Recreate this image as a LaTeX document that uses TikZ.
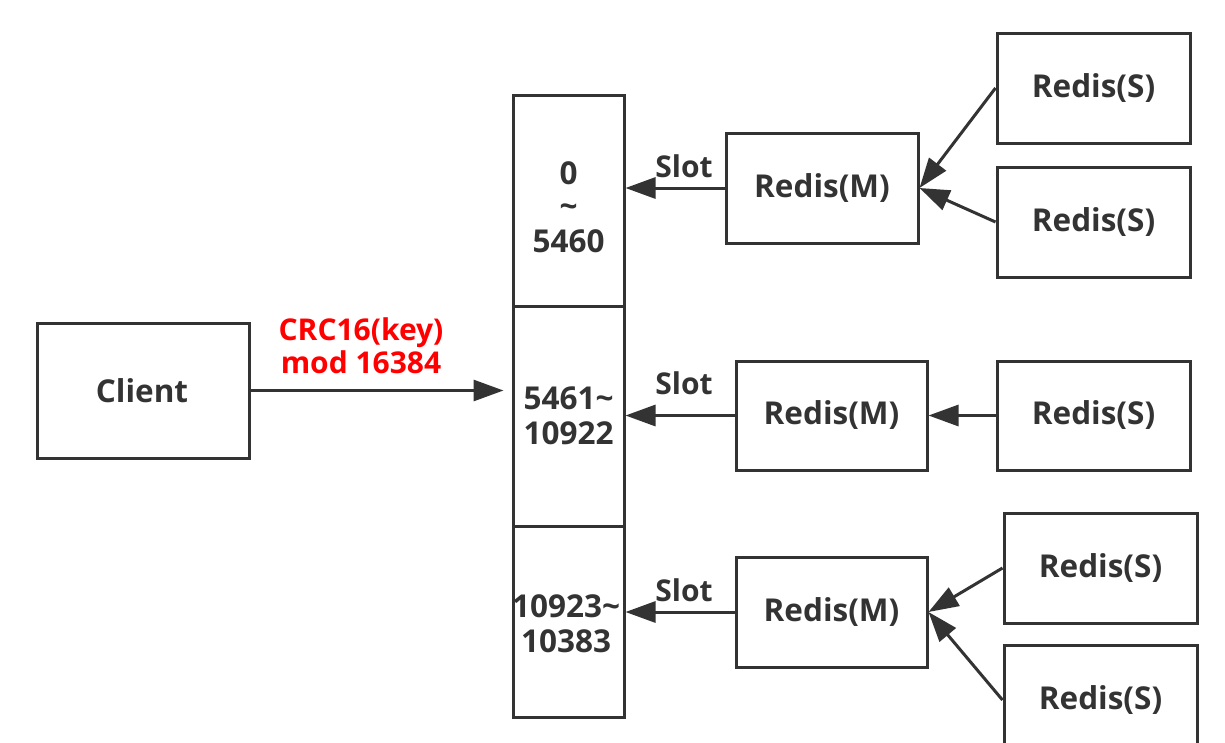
\documentclass[tikz,border=0pt]{standalone}
\usepackage{fontspec}
\setmainfont{Open Sans}
\usetikzlibrary{arrows.meta}
\definecolor{ink}{HTML}{333333}
\definecolor{redlbl}{HTML}{FF0000}
\tikzset{
  box/.style={draw=ink, line width=3pt, fill=white, inner sep=0pt, minimum width=#1},
  box/.default=193pt,
  btxt/.style={text=ink, font=\bfseries\fontsize{31.5}{35}\selectfont, align=center, inner sep=0pt},
  stxt/.style={text=ink, font=\bfseries\fontsize{30}{33}\selectfont, inner sep=0pt},
  conn/.style={draw=ink, line width=3pt, -{Triangle[length=30pt,width=21pt]}},
}
\begin{document}
\begin{tikzpicture}[x=1pt,y=-1pt]
\useasboundingbox (0,0) rectangle (1225,742);
\fill[white] (0,0) rectangle (1225,742);
\clip (0,0) rectangle (1225,742);
% client
\node[box=212pt, minimum height=135pt] (client) at (143.5,390.5) {};
\node[btxt] (clientt) at (142,390.5) {Client};
% slot column
\node[box=111pt, minimum height=211pt] (cell1) at (568.5,200.5) {};
\node[box=111pt, minimum height=220pt] (cell2) at (568.5,416) {};
\node[box=111pt, minimum height=191pt] (cell3) at (568.5,621.5) {};
\node[btxt] (cell1t) at (568.5,207) {0\\[-2pt]\char`~\\5460};
\node[btxt] (cell2t) at (568.5,415.5) {5461\char`~\\10922};
\node[btxt] (cell3t) at (566,623.5) {10923\char`~\\10383};
% masters
\node[box=192pt, minimum height=110pt] (m1) at (822,188) {};
\node[btxt] at (m1) {Redis(M)};
\node[box=191pt, minimum height=109pt] (m2) at (831.5,415.5) {};
\node[btxt] at (m2) {Redis(M)};
\node[box=191pt, minimum height=110pt] (m3) at (831.5,612) {};
\node[btxt] at (m3) {Redis(M)};
% slaves
\node[box, minimum height=110pt] (s1) at (1093.5,88) {};
\node[btxt] at (s1) {Redis(S)};
\node[box, minimum height=110pt] (s2) at (1093.5,222) {};
\node[btxt] at (s2) {Redis(S)};
\node[box, minimum height=109pt] (s3) at (1093.5,415.5) {};
\node[btxt] at (s3) {Redis(S)};
\node[box, minimum height=110pt] (s4) at (1100.5,568) {};
\node[btxt] at (s4) {Redis(S)};
\node[box, minimum height=110pt] (s5) at (1100.5,700) {};
\node[btxt] at (s5) {Redis(S)};
% client arrow
\coordinate (cin) at ([xshift=-8pt]client.east -| cell2.west);
\draw[conn] (client.east) -- (cin);
\node[stxt, text=redlbl, align=center] (crc) at (361,346) {CRC16(key)\\mod 16384};
% slot arrows
\draw[conn] (m1.west) -- (m1.west -| cell1.east);
\draw[conn] (m2.west) -- (m2.west -| cell2.east);
\draw[conn] (m3.west) -- (m3.west -| cell3.east);
\node[stxt] (slot1) at (684,166) {Slot};
\node[stxt] (slot2) at (684,383) {Slot};
\node[stxt] (slot3) at (684,590) {Slot};
% slave arrows
\draw[conn] (s1.west) -- (m1.east);
\draw[conn] (s2.west) -- (m1.east);
\draw[conn] (s3.west) -- (m2.east);
\draw[conn] (s4.west) -- (m3.east);
\draw[conn] (s5.west) -- (m3.east);
\end{tikzpicture}
\end{document}
